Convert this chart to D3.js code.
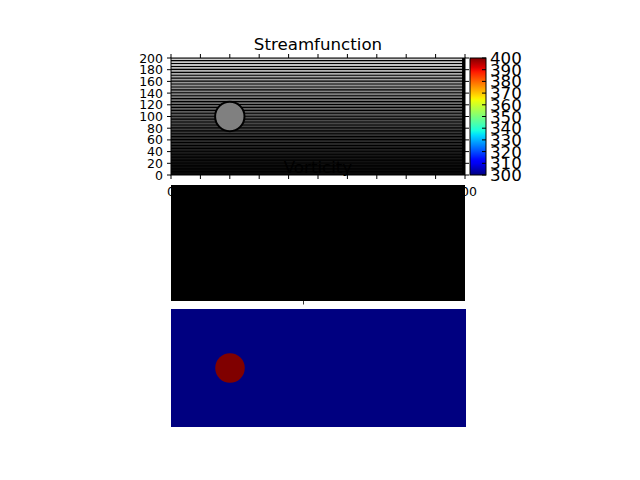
<!DOCTYPE html>
<html><head><meta charset="utf-8">
<script src="https://cdn.jsdelivr.net/npm/d3@7"></script>
<style>body{margin:0;background:#fff}svg{display:block;font-family:"DejaVu Sans",sans-serif}</style>
</head><body><svg id="c" width="640" height="480"></svg>
<script>
// ---- data ----
const xTicks = [0,50,100,150,200,250,300,350,400,450,500];
const yTicks = [0,20,40,60,80,100,120,140,160,180,200];
const cbTicks = [300,310,320,330,340,350,360,370,380,390,400];
const streamLevels = [0,5,10,15,20,25,30,35,40,45,50,55,60,65,70,75,80,85,90,95,100,105,110,115,120,125,130,135,140,145,150,155,160,165,170,175,180,185,190,195];
const obstacleX = [100];
const obstacleY = [100];
const obstacleR = [25];
const titles = ["Streamfunction","Vorticity"];

(function(){
const svg = d3.select("#c");
const x = d3.scaleLinear([0,500],[171,465]);
const y = d3.scaleLinear([0,200],[175,58]);
const grayScale = d3.scalePow().exponent(1.4).domain([0,200]).range([10,215]);

// x tick labels of the top axes (mostly covered later by the middle panel)
svg.append("g").selectAll("text").data(xTicks).join("text")
  .attr("x", d=>x(d)).attr("y", 196).attr("text-anchor","middle")
  .attr("font-size",12.5).text(d=>d);

// ---- top panel: streamfunction ----
const gTop = svg.append("g");
gTop.append("rect").attr("x",x(0)).attr("y",y(200)).attr("width",x(500)-x(0)).attr("height",y(0)-y(200)).attr("fill","#000");
gTop.selectAll("line.lv").data(streamLevels).join("line").attr("class","lv")
  .attr("x1",x(0)).attr("x2",x(495))
  .attr("y1",d=>y(d+3)).attr("y2",d=>y(d+3))
  .attr("stroke",d=>{const g=Math.round(grayScale(d));return `rgb(${g},${g},${g})`;})
  .attr("stroke-width",1.8);
gTop.selectAll("circle").data(obstacleX).join("circle")
  .attr("cx",(d,i)=>x(d)).attr("cy",(d,i)=>y(obstacleY[i]))
  .attr("r",(d,i)=>x(obstacleR[i])-x(0))
  .attr("fill","#808080").attr("stroke","#000").attr("stroke-width",2);
gTop.append("rect").attr("x",x(0)).attr("y",y(200)).attr("width",x(500)-x(0)).attr("height",y(0)-y(200))
  .attr("fill","none").attr("stroke","#000").attr("stroke-width",1);
// ticks on all four sides, outward
const tk = gTop.append("g").attr("stroke","#000").attr("stroke-width",1);
tk.selectAll("line.b").data(xTicks).join("line").attr("class","b")
  .attr("x1",d=>x(d)).attr("x2",d=>x(d)).attr("y1",y(0)).attr("y2",y(0)+4);
tk.selectAll("line.t").data(xTicks).join("line").attr("class","t")
  .attr("x1",d=>x(d)).attr("x2",d=>x(d)).attr("y1",y(200)).attr("y2",y(200)-4);
tk.selectAll("line.l").data(yTicks).join("line").attr("class","l")
  .attr("x1",x(0)-4).attr("x2",x(0)).attr("y1",d=>y(d)).attr("y2",d=>y(d));
tk.selectAll("line.r").data(yTicks).join("line").attr("class","r")
  .attr("x1",x(500)).attr("x2",x(500)+4).attr("y1",d=>y(d)).attr("y2",d=>y(d));
gTop.append("g").selectAll("text").data(yTicks).join("text")
  .attr("x",163).attr("y",d=>y(d)).attr("dy","0.36em").attr("text-anchor","end")
  .attr("font-size",12.5).text(d=>d);
gTop.append("text").attr("x",318).attr("y",49.5).attr("text-anchor","middle")
  .attr("font-size",16.67).text(titles[0]);

// ---- colorbar (jet) ----
function pw(t,pts){for(let i=1;i<pts.length;i++){if(t<=pts[i][0]){const a=pts[i-1],b=pts[i];return a[1]+(b[1]-a[1])*(t-a[0])/(b[0]-a[0]);}}return pts[pts.length-1][1];}
function jet(t){
  const r=pw(t,[[0,0],[0.35,0],[0.66,1],[0.89,1],[1,0.5]]);
  const g=pw(t,[[0,0],[0.125,0],[0.375,1],[0.64,1],[0.91,0],[1,0]]);
  const b=pw(t,[[0,0.5],[0.11,1],[0.34,1],[0.65,0],[1,0]]);
  return d3.rgb(r*255,g*255,b*255).formatHex();
}
const cb = d3.scaleLinear([300,400],[175,58]);
const grad = svg.append("defs").append("linearGradient").attr("id","jet")
  .attr("x1",0).attr("y1",1).attr("x2",0).attr("y2",0);
grad.selectAll("stop").data(d3.range(0,1.0001,0.02)).join("stop")
  .attr("offset",d=>d).attr("stop-color",d=>jet(d));
svg.append("rect").attr("x",470).attr("y",cb(400)).attr("width",16).attr("height",cb(300)-cb(400))
  .attr("fill","url(#jet)").attr("stroke","#000").attr("stroke-width",1);
svg.append("g").attr("stroke","#000").selectAll("line").data(cbTicks).join("line")
  .attr("x1",482).attr("x2",486).attr("y1",d=>cb(d)).attr("y2",d=>cb(d));
svg.append("g").selectAll("text").data(cbTicks).join("text")
  .attr("x",490).attr("y",d=>cb(d)).attr("dy","0.36em").attr("font-size",16.67).text(d=>d);

// ---- middle panel: vorticity ----
const ym = d3.scaleLinear([0,200],[301,185]);
svg.append("rect").attr("x",x(0)).attr("y",ym(200)).attr("width",x(500)-x(0)).attr("height",ym(0)-ym(200)).attr("fill","#000");
svg.append("text").attr("x",318).attr("y",173).attr("text-anchor","middle")
  .attr("font-size",16.67).text(titles[1]);
svg.append("line").attr("x1",303.5).attr("x2",303.5).attr("y1",ym(0)).attr("y2",ym(0)+3.5).attr("stroke","#333");

// ---- bottom panel ----
const xb = d3.scaleLinear([0,500],[171,466]);
const yb = d3.scaleLinear([0,200],[427,309]);
svg.append("rect").attr("x",xb(0)).attr("y",yb(200)).attr("width",xb(500)-xb(0)).attr("height",yb(0)-yb(200)).attr("fill",jet(0));
svg.append("g").selectAll("circle").data(obstacleX).join("circle")
  .attr("cx",d=>xb(d)).attr("cy",(d,i)=>yb(obstacleY[i]))
  .attr("r",(d,i)=>xb(obstacleR[i])-xb(0)).attr("fill",jet(1));
})();
</script></body></html>
